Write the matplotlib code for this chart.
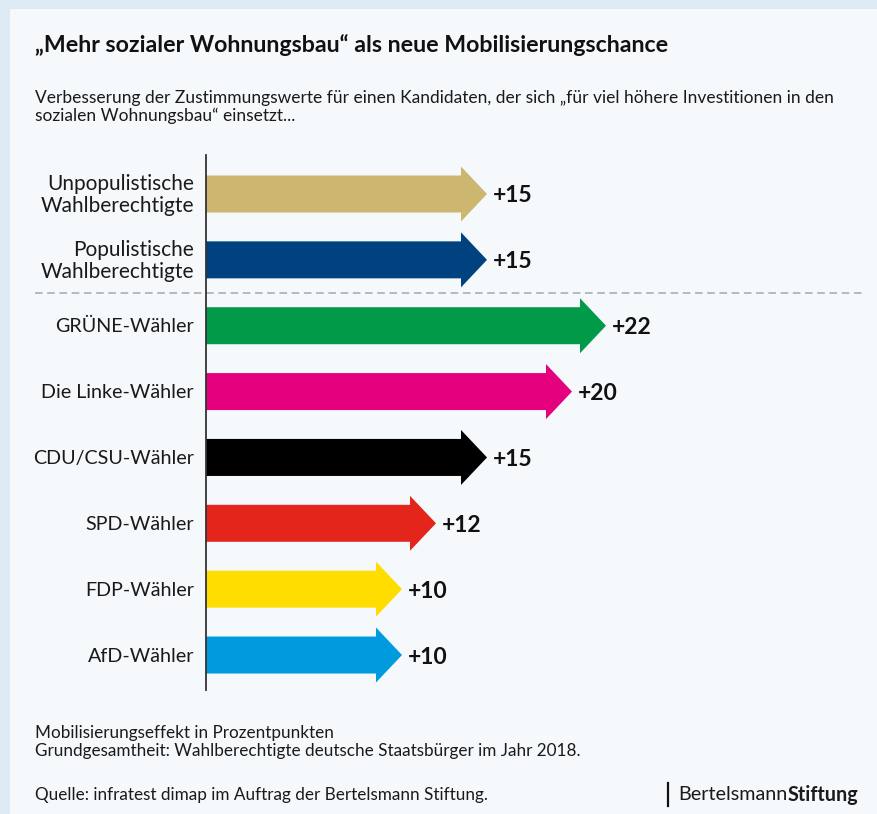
import matplotlib
matplotlib.use("Agg")
import matplotlib.pyplot as plt
from matplotlib.patches import Polygon, Rectangle
from matplotlib.lines import Line2D
import matplotlib.transforms as mtransforms

plt.rcParams['font.family'] = ['Lato', 'DejaVu Sans']

# data
groups = ["Unpopulistische\nWahlberechtigte", "Populistische\nWahlberechtigte",
          "GRÜNE-Wähler", "Die Linke-Wähler", "CDU/CSU-Wähler",
          "SPD-Wähler", "FDP-Wähler", "AfD-Wähler"]
values = [15, 15, 22, 20, 15, 12, 10, 10]
colors = ["#cdb66f", "#00427f", "#009a48", "#e5007e", "#000000",
          "#e3251b", "#ffdd00", "#009bdf"]

title = "„Mehr sozialer Wohnungsbau“ als neue Mobilisierungschance"
subtitle = ("Verbesserung der Zustimmungswerte für einen Kandidaten, der sich „für viel höhere Investitionen in den\n"
            "sozialen Wohnungsbau“ einsetzt...")
note = ("Mobilisierungseffekt in Prozentpunkten\n"
        "Grundgesamtheit: Wahlberechtigte deutsche Staatsbürger im Jahr 2018.")
source = "Quelle: infratest dimap im Auftrag der Bertelsmann Stiftung."

W, H = 877, 814
fig = plt.figure(figsize=(W / 100, H / 100), dpi=100, facecolor="#deeaf3")
fig.add_artist(Rectangle((10 / W, 0), 1, 1 - 9 / H, transform=fig.transFigure,
                         facecolor="#f5f9fc", edgecolor="none", zorder=0))

# axes: x=0 at 206px, 17px per point; rows 66px apart
x0, px_per = 206, 17.0
y_top, y_bot, row0, step = 155, 690, 194, 65.86
ax = fig.add_axes([x0 / W, 1 - y_bot / H, (W - x0) / W, (y_bot - y_top) / H])
ax.set_facecolor("none")
ax.set_xlim(0, (W - x0) / px_per)
ax.set_ylim((y_bot - row0) / step, (y_top - row0) / step)
for s in ["top", "right", "bottom"]:
    ax.spines[s].set_visible(False)
ax.spines["left"].set_color("#333333")
ax.spines["left"].set_linewidth(1.3)
ax.set_xticks([])
ax.set_yticks([])

body = 18.5 / step
head = 27.5 / step
head_len = 26 / px_per
for i, (v, c) in enumerate(zip(values, colors)):
    pts = [(0, i - body), (v, i - body), (v, i - head), (v + head_len, i),
           (v, i + head), (v, i + body), (0, i + body)]
    ax.add_patch(Polygon(pts, closed=True, facecolor=c, edgecolor="none"))
    ax.annotate(f"+{v}", (v + head_len, i), xytext=(6, -2), textcoords="offset pixels",
                ha="left", va="center", fontsize=16.5, fontweight="bold", color="#111111")
    fs = 15 if "\n" in groups[i] else 14.2
    ax.annotate(groups[i], (0, i), xycoords=("axes fraction", "data"), xytext=(-12, -1),
                textcoords="offset pixels", ha="right", va="center", fontsize=fs,
                color="#1a1a1a", linespacing=1.1)

blend = mtransforms.blended_transform_factory(fig.transFigure, ax.transData)
ax.add_line(Line2D([35 / W, 866 / W], [1.5, 1.5], transform=blend, color="#a8a8a8",
                   linewidth=1.1, linestyle=(0, (5, 3)), clip_on=False))

fig.text(35 / W, 1 - 45 / H, title, fontsize=16.7, fontweight="bold", va="center",
         color="#111111")
fig.text(35 / W, 1 - 107 / H, subtitle, fontsize=12.5, va="center", color="#1a1a1a",
         linespacing=1.15)
fig.text(35 / W, 1 - 742 / H, note, fontsize=12.3, va="center", color="#1a1a1a",
         linespacing=1.15)
fig.text(35 / W, 1 - 795 / H, source, fontsize=12.3, va="center", color="#1a1a1a")

# logo
fig.add_artist(Line2D([668 / W, 668 / W], [1 - 806 / H, 1 - 783 / H],
                      transform=fig.transFigure, color="#111111", linewidth=1.6))
t1 = fig.text(678 / W, 1 - 795 / H, "Bertelsmann", fontsize=14.2, va="center",
              color="#1a1a1a")
fig.canvas.draw()
bb = t1.get_window_extent()
fig.text(bb.x1 / W, 1 - 795 / H, "Stiftung", fontsize=14.2, fontweight="bold",
         va="center", color="#1a1a1a")

fig.savefig("out.png", dpi=100, facecolor=fig.get_facecolor())
